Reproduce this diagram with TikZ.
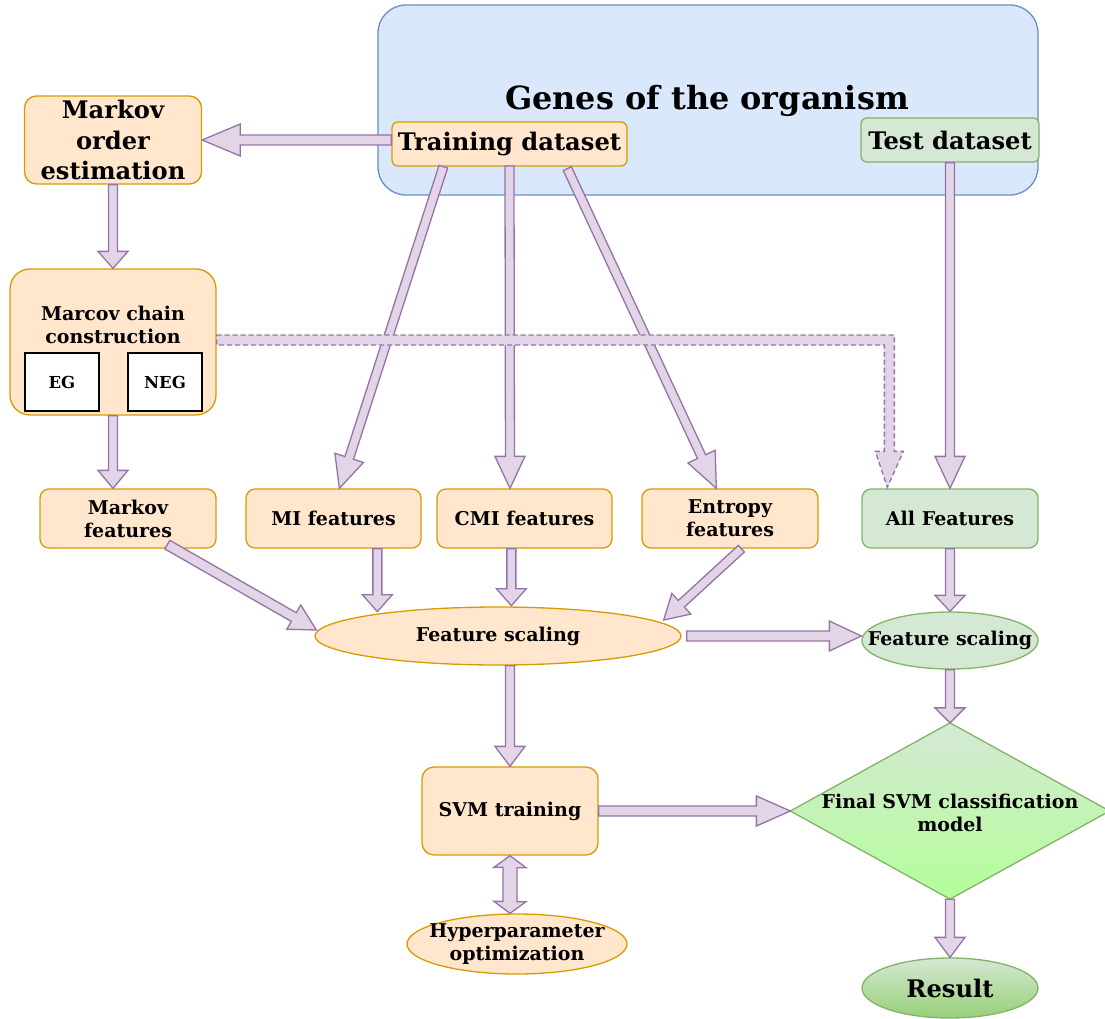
\documentclass[tikz,border=0pt]{standalone}
\usepackage{fontspec}
\setmainfont{DejaVu Serif}
\usetikzlibrary{calc,shapes.geometric}
\definecolor{ofill}{HTML}{FFE6CC}
\definecolor{ostroke}{HTML}{D79B00}
\definecolor{bfill}{HTML}{DAE8FC}
\definecolor{bstroke}{HTML}{6C8EBF}
\definecolor{gfill}{HTML}{D5E8D4}
\definecolor{gstroke}{HTML}{82B366}
\definecolor{pfill}{HTML}{E1D5E7}
\definecolor{pstroke}{HTML}{9673A6}
\definecolor{dbottom}{HTML}{B3FF99}
\definecolor{rbottom}{HTML}{97D077}
\newcommand\fsLab{\fontsize{19}{23}\selectfont}
\newcommand\fsBig{\fontsize{24.2}{30}\selectfont}
\newcommand\fsTitle{\fontsize{31.9}{36}\selectfont}
\newcommand\fsSmall{\fontsize{16.5}{18}\selectfont}
\tikzset{
  base/.style={font=\bfseries\fsLab, align=center, inner sep=0pt, line width=1.3pt},
  txt/.style={font=\bfseries\fsLab, align=center, inner sep=0pt},
  obox/.style={base, draw=ostroke, fill=ofill, rounded corners=9pt},
  gbox/.style={base, draw=gstroke, fill=gfill, rounded corners=9pt},
  oell/.style={base, ellipse, draw=ostroke, fill=ofill},
  gell/.style={base, ellipse, draw=gstroke, fill=gfill},
  wbox/.style={base, draw=black, fill=white, font=\bfseries\fsSmall},
  flex/.style={draw=pstroke, fill=pfill, line width=1.3pt, line join=miter},
}
% flex arrow: start, end, half shaft, half head, head length
\newcommand\farrow[6][]{%
  \coordinate (faA) at (#2);
  \coordinate (faB) at (#3);
  \coordinate (faH) at ($(faB)!#6!(faA)$);
  \draw[flex,#1] ($(faA)!#4!90:(faB)$) -- ($(faH)!#4!90:(faB)$) -- ($(faH)!#5!90:(faB)$)
     -- (faB) -- ($(faH)!#5!-90:(faB)$) -- ($(faH)!#4!-90:(faB)$) -- ($(faA)!#4!-90:(faB)$) -- cycle;
}
\begin{document}
\begin{tikzpicture}[x=1pt,y=1pt]
\useasboundingbox (0,0) rectangle (1105,-1019);

% big container
\node[base, draw=bstroke, fill=bfill, rounded corners=28pt, minimum width=660, minimum height=190] (genes) at (708,-100) {};
\node[txt, font=\bfseries\fsTitle] (gtitle) at (707,-101) {Genes of the organism};
\node[obox, rounded corners=6pt, minimum width=235, minimum height=44, font=\bfseries\fsBig] (train) at (509.5,-144) {Training dataset};
\node[gbox, rounded corners=6pt, minimum width=178, minimum height=44, font=\bfseries\fsBig] (test) at (950,-140) {Test dataset};

% left column
\node[obox, rounded corners=12pt, minimum width=177, minimum height=88, font=\bfseries\fontsize{24.2}{30.5}\selectfont] (mord) at (113,-140) {Markov\\order\\estimation};
\node[obox, rounded corners=20pt, minimum width=206, minimum height=146] (mcc) at (113,-342) {};
\node[txt] (mcct) at (113,-325) {Marcov chain\\construction};
\node[wbox, minimum width=74, minimum height=58] (eg) at (62,-382) {EG};
\node[wbox, minimum width=74, minimum height=58] (neg) at (165,-382) {NEG};

% feature row
\node[obox, minimum width=176, minimum height=59] (mkf) at (128,-518.5) {Markov\\features};
\node[obox, minimum width=175, minimum height=59] (mif) at (333.5,-518.5) {MI features};
\node[obox, minimum width=175, minimum height=59] (cmif) at (524.5,-518.5) {CMI features};
\node[obox, minimum width=176, minimum height=59] (entf) at (730,-518.5) {Entropy\\features};
\node[gbox, minimum width=176, minimum height=59] (allf) at (950,-518.5) {All Features};

% scaling
\node[oell, minimum width=366, minimum height=58] (fs1) at (498,-636) {};
\node[txt] (fs1t) at (fs1) {Feature scaling};
\node[gell, minimum width=176, minimum height=57] (fs2) at (950,-640.5) {};
\node[txt] (fs2t) at (fs2) {Feature scaling};

% svm
\node[obox, rounded corners=12pt, minimum width=176, minimum height=88] (svm) at (510,-811) {SVM training};
\node[oell, minimum width=220, minimum height=60] (hyp) at (517,-944) {};
\node[txt] (hypt) at (hyp) {Hyperparameter\\optimization};

% diamond
\node[base, minimum width=318, minimum height=175] (dia) at (950,-811) {};
\shade[top color=gfill, bottom color=dbottom, draw=gstroke, line width=1.3pt]
  (dia.north) -- (dia.east) -- (dia.south) -- (dia.west) -- cycle;
\node[txt] (diat) at (950,-813) {Final SVM classification\\model};

% result
\node[base, ellipse, minimum width=176, minimum height=60, draw=gstroke, top color=gfill, bottom color=rbottom] (res) at (950,-988) {};
\node[txt, font=\bfseries\fsBig] (rest) at (res) {Result};

% arrows
\farrow{train.west |- 0,-140}{mord.east |- 0,-140}{5pt}{16pt}{38pt}
\farrow{mord.south}{mcc.north}{4.5pt}{15pt}{17pt}
\farrow{mcc.south}{mcc.south |- mkf.north}{4.5pt}{15pt}{18pt}
\farrow{$(train.south west)+(52,0)$}{$(mif.north west)+(94,0)$}{4.5pt}{15pt}{32pt}
\farrow{train.south |- 0,-166}{cmif.north -| 510,0}{4.5pt}{15pt}{32pt}
\farrow{$(train.south west)+(176,-2)$}{$(entf.north west)+(75,0)$}{4.5pt}{15pt}{35pt}
\farrow{test.south}{test.south |- allf.north}{4.5pt}{15pt}{32pt}

\farrow{$(mkf.south west)+(128,4)$}{$(fs1.west)+(2,6)$}{5pt}{14pt}{26pt}
\farrow{$(mif.south west)+(132,0)$}{$(mif.south west)+(132,-63)$}{4.5pt}{15pt}{17pt}
\farrow{$(cmif.south west)+(75,0)$}{$(cmif.south west)+(75,-57)$}{4.5pt}{15pt}{17pt}
\farrow{$(entf.south west)+(100,0)$}{$(fs1.east)+(-18,16)$}{4.5pt}{14pt}{24pt}
\farrow{$(fs1.east)+(5,0)$}{fs2.west |- fs1.east}{5pt}{15pt}{32pt}
\farrow{allf.south}{fs2.north}{4.5pt}{15pt}{16pt}
\farrow{fs2.south}{dia.north}{4.5pt}{15pt}{15pt}
\farrow{fs1.south -| 510,0}{svm.north}{4.5pt}{15pt}{20pt}
\farrow{svm.east}{dia.west}{5pt}{15pt}{34pt}
\farrow{dia.south}{res.north}{4.5pt}{15pt}{20pt}

% double arrow svm <-> hyp
\draw[flex] (svm.south) -- ++(16,-12) -- ++(-9,0) -- ++(0,-34) -- ++(9,0) -- (hyp.north -| svm.south)
  -- ++(-16,12) -- ++(9,0) -- ++(0,34) -- ++(-9,0) -- cycle;

% dashed arrow mcc -> all features
\coordinate (dk) at ($(allf.north west)+(28,0)$);
\draw[flex, dash pattern=on 5pt off 3pt] ($(mcc.east)+(0,7)$) -- ($(dk |- mcc.east)+(5,7)$) -- ($(dk)+(5,37)$) -- ($(dk)+(14,37)$)
  -- ($(dk)+(-2,1)$) -- ($(dk)+(-14,37)$) -- ($(dk)+(-5,37)$) -- ($(dk |- mcc.east)+(-5,-3)$) -- ($(mcc.east)+(0,-3)$) -- cycle;
\end{tikzpicture}
\end{document}
